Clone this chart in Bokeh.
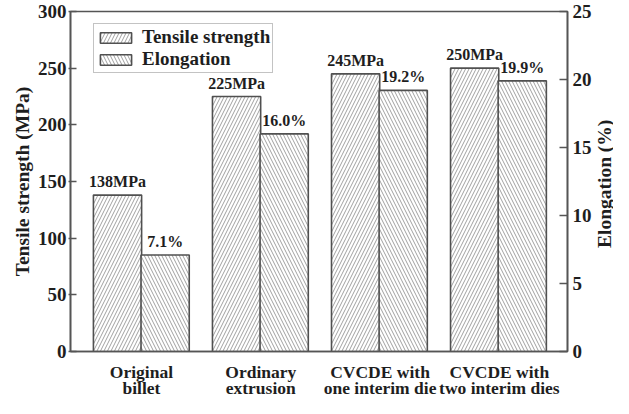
import math
from bokeh.plotting import figure
from bokeh.layouts import row, column
from bokeh.models import Range1d, LinearAxis, FixedTicker, ColumnDataSource, Legend, LegendItem, Label
from bokeh.core.properties import value
from bokeh.embed import file_html
from bokeh.resources import INLINE

cat_line1 = ["Original", "Ordinary", "CVCDE with", "CVCDE with"]
cat_line2 = ["billet", "extrusion", "one interim die", "two interim dies"]
tensile = [138, 225, 245, 250]
elongation = [7.1, 16.0, 19.2, 19.9]
tensile_labels = ["138MPa", "225MPa", "245MPa", "250MPa"]
elong_labels = ["7.1%", "16.0%", "19.2%", "19.9%"]
ts_ticks = [0, 50, 100, 150, 200, 250, 300]
el_ticks = [0, 5, 10, 15, 20, 25]

FONT = "Liberation Serif"
TXT = "#1e1e1e"
AX = "#555555"
pos = [1, 2, 3, 4]
off = 0.2
w = 0.405
X0, X1 = 0.405, 4.58

W_MAIN, W_SIDE = 594, 19
H_MAIN, H_BOT = 361, 37
LB, RB = 70, 26

p = figure(width=W_MAIN, height=H_MAIN, output_backend="svg", toolbar_location=None,
           x_range=Range1d(X0, X1), y_range=Range1d(0, 300),
           min_border_left=LB, min_border_top=11, min_border_right=RB, min_border_bottom=10)
p.extra_y_ranges = {"el": Range1d(0, 25)}

p.grid.visible = False
p.outline_line_color = AX
p.outline_line_width = 1.6
p.outline_line_alpha = 1

ts_src = ColumnDataSource(dict(x=[x - off for x in pos], top=tensile))
el_src = ColumnDataSource(dict(x=[x + off for x in pos], top=elongation))

r1 = p.vbar(x="x", top="top", width=w, source=ts_src, fill_color="white", line_color="#505050",
            line_width=1.6, hatch_pattern="/", hatch_color="#a0a0a0", hatch_scale=7, hatch_weight=1)
r2 = p.vbar(x="x", top="top", width=w, source=el_src, fill_color="white", line_color="#505050",
            line_width=1.6, hatch_pattern="\\", hatch_color="#a0a0a0", hatch_scale=7, hatch_weight=1,
            y_range_name="el")

for x, t, l in zip(pos, tensile, tensile_labels):
    p.add_layout(Label(x=x - off, y=t, text=l, text_align="center", y_offset=5,
                       text_font=FONT, text_font_style="bold", text_font_size="16px", text_color=TXT))
for x, t, l in zip(pos, elongation, elong_labels):
    p.add_layout(Label(x=x + off, y=t, text=l, text_align="center", y_offset=5, y_range_name="el",
                       text_font=FONT, text_font_style="bold", text_font_size="16px", text_color=TXT))

def style(ax):
    ax.major_label_text_font = FONT
    ax.major_label_text_font_style = "bold"
    ax.major_label_text_font_size = "19px"
    ax.major_label_text_color = TXT
    ax.axis_label_text_font = FONT
    ax.axis_label_text_font_style = "bold"
    ax.axis_label_text_font_size = "19.5px"
    ax.axis_label_text_color = TXT
    ax.axis_label_standoff = 2
    ax.axis_line_color = AX
    ax.axis_line_width = 1.6
    ax.major_tick_line_color = AX
    ax.major_tick_line_width = 1.5
    ax.minor_tick_line_color = None
    ax.major_label_standoff = 2

ly = p.yaxis[0]
ly.ticker = FixedTicker(ticks=ts_ticks)
ly.axis_label = "Tensile strength (MPa)"
style(ly)
ly.major_tick_in = 6
ly.major_tick_out = 2

ry = LinearAxis(y_range_name="el", ticker=FixedTicker(ticks=el_ticks))
style(ry)
ry.major_tick_in = 8
ry.major_tick_out = 0
ry.major_label_standoff = 5
p.add_layout(ry, "right")

bx = p.xaxis[0]
bx.ticker = FixedTicker(ticks=[])
bx.axis_line_color = AX
bx.axis_line_width = 1.6
bx.major_tick_line_color = None
bx.minor_tick_line_color = None

legend = Legend(items=[LegendItem(label="Tensile strength", renderers=[r1]),
                       LegendItem(label="Elongation", renderers=[r2])],
                location=(23, 278))
legend.label_text_font = FONT
legend.label_text_font_style = "bold"
legend.label_text_font_size = "19px"
legend.label_text_color = TXT
legend.glyph_width = 39
legend.glyph_height = 13
legend.label_height = 19
legend.spacing = 0
legend.padding = 2
legend.margin = 0
legend.border_line_color = "#888888"
legend.border_line_width = 1
legend.label_standoff = 7
p.add_layout(legend)

# right-hand axis title, reading bottom-to-top, in a narrow side panel
side = figure(width=W_SIDE, height=H_MAIN, output_backend="svg", toolbar_location=None,
              x_range=Range1d(0, 1), y_range=Range1d(0, H_MAIN), min_border=0,
              x_axis_location=None, y_axis_location=None)
side.grid.visible = False
side.outline_line_color = None
side.text(x=[0.5], y=[H_MAIN - 183], text=["Elongation (%)"], angle=math.pi / 2,
          text_align="center", text_baseline="middle", text_font=value(FONT),
          text_font_style="bold", text_font_size="19.5px", text_color=TXT)

# two-line category labels below the frame, sharing the main x range
bot = figure(width=W_MAIN, height=H_BOT, output_backend="svg", toolbar_location=None,
             x_range=p.x_range, y_range=Range1d(0, H_BOT), min_border=0,
             min_border_left=LB, min_border_right=RB,
             x_axis_location=None, y_axis_location=None)
bot.grid.visible = False
bot.outline_line_color = None
bot.text(x=pos, y=[H_BOT - 0.5] * 4, text=cat_line1, text_align="center", text_baseline="top",
         text_font=value(FONT), text_font_style="bold", text_font_size="17.5px", text_color=TXT)
bot.text(x=pos, y=[0.5] * 4, text=cat_line2, text_align="center", text_baseline="bottom",
         text_font=value(FONT), text_font_style="bold", text_font_size="17.5px", text_color=TXT)

layout = column(row(p, side, spacing=0), bot, spacing=0)
open("out.html", "w").write(file_html(layout, INLINE))
